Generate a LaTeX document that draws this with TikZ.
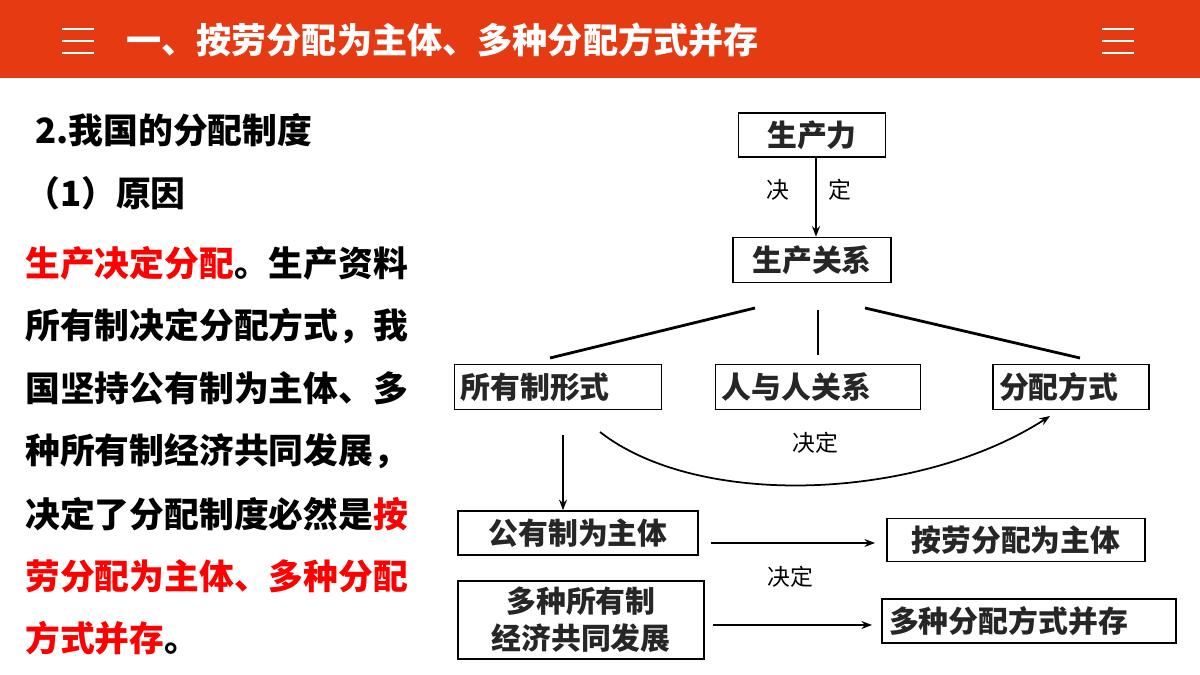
\documentclass[tikz,border=0pt]{standalone}
\usepackage{fontspec}
\setmainfont{Liberation Sans}
\newfontfamily\cjk{Noto Sans CJK SC}
\usetikzlibrary{positioning, arrows.meta}
\definecolor{barred}{HTML}{E63A12}
\definecolor{keyred}{HTML}{FF0000}
\tikzstyle{box} = [rectangle, draw=black, line width=0.9pt, inner sep=2pt, font=\cjk\bfseries\fontsize{17}{21}\selectfont, text=black!85]
\tikzstyle{arrow} = [line width=1pt, -{Stealth[length=6pt]}]
\tikzstyle{lbl} = [font=\cjk\fontsize{13}{15}\selectfont]
\tikzstyle{para} = [anchor=west, font=\cjk\bfseries\fontsize{19.8}{22}\selectfont, inner sep=0pt]

\begin{document}
\begin{tikzpicture}[x=0.02cm, y=-0.02cm]
\useasboundingbox (0,0) rectangle (1200,675);

% header bar
\fill[barred] (0,0) rectangle (1200,78);
\node (title) [anchor=west, text=white, font=\cjk\bfseries\fontsize{20}{22}\selectfont] at (120,40) {一、按劳分配为主体、多种分配方式并存};
\foreach \x in {78,1118} {
  \foreach \y in {29,41,53} \draw[white, line width=1.3pt] (\x-16,\y) -- (\x+16,\y);
}

% left text
\node (head) [para] at (35,130) {2.我国的分配制度};
\node (reason) [para] at (25,193) {（1）原因};
\node (l1) [para] at (25,263) {\textcolor{keyred}{生产决定分配}。生产资料};
\node (l2) [para] at (25,326) {所有制决定分配方式，我};
\node (l3) [para] at (25,388) {国坚持公有制为主体、多};
\node (l4) [para] at (25,451) {种所有制经济共同发展，};
\node (l5) [para] at (25,514) {决定了分配制度必然是\textcolor{keyred}{按}};
\node (l6) [para] at (25,576) {\textcolor{keyred}{劳分配为主体、多种分配}};
\node (l7) [para] at (25,638) {\textcolor{keyred}{方式并存}。};

% diagram
\node (force) [box, minimum width=2.94cm, minimum height=0.88cm] at (812,135) {生产力};
\node (rel) [box, minimum width=3.16cm, minimum height=0.9cm] at (812,260) {生产关系};
\node (own) [box, minimum width=4.14cm, minimum height=0.9cm, text width=3.9cm] at (558,387) {所有制形式};
\node (human) [box, minimum width=4.1cm, minimum height=0.9cm, text width=3.86cm] at (818,387) {人与人关系};
\node (dist) [box, minimum width=3.12cm, minimum height=0.9cm, text width=2.88cm] at (1071,387) {分配方式};
\node (pub) [box, minimum width=4.8cm, minimum height=0.88cm] at (578,533) {公有制为主体};
\node (labor) [box, minimum width=5.16cm, minimum height=0.86cm] at (1016,540) {按劳分配为主体};
\node (multi) [box, minimum width=4.92cm, minimum height=1.56cm, align=center] at (581,620) {多种所有制\\经济共同发展};
\node (many) [box, minimum width=5.88cm, minimum height=0.88cm, text width=5.6cm] at (1029,621) {多种分配方式并存};

\draw [arrow] (force.south -| 816,0) -- (rel.north -| 816,0);
\node (d1) [lbl] at (778,190) {决};
\node (d2) [lbl] at (840,190) {定};

\coordinate (ra) at (755,308);
\coordinate (rb) at (818,310);
\coordinate (rc) at (865,308);
\draw[line width=1.6pt] (ra) -- (550,358);
\draw[line width=1.6pt] (rb) -- (818,355);
\draw[line width=1.6pt] (rc) -- (1080,358);

\draw [arrow] (563,435) -- (pub.north -| 563,0);
\draw [arrow] (600,432) .. controls (700,510) and (920,500) .. (1050,416);
\node (d3) [lbl] at (815,443) {决定};

\draw [arrow] (pub.east |- 0,543) ++(12,0) -- (875,543);
\draw [arrow] (multi.east |- 0,625) ++(8,0) -- (872,625);
\node (d4) [lbl] at (790,577) {决定};
\end{tikzpicture}
\end{document}
